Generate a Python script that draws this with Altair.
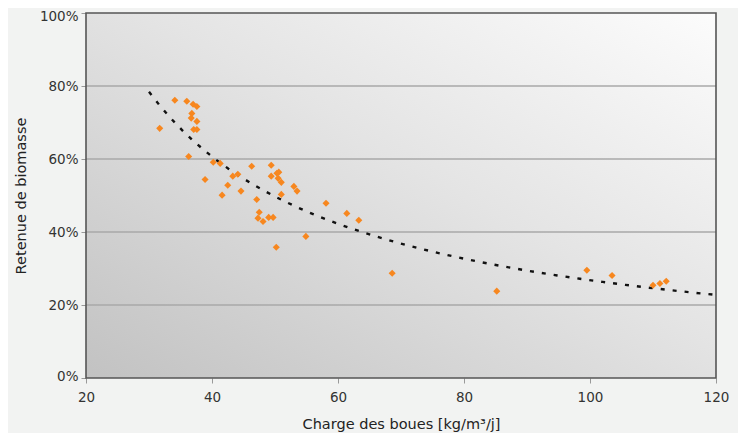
import altair as alt
import pandas as pd

# Charge des boues [kg/m3/j]
charge = [31.7, 34.1, 36.0, 37.0, 37.6, 36.8, 36.7, 37.6, 37.1, 37.6,
          36.3, 40.2, 41.3, 38.9, 42.5, 41.6, 43.3, 44.1, 44.6, 46.3,
          49.4, 49.4, 50.3, 50.6, 50.5, 51.0, 47.1, 47.5, 47.3, 48.1,
          49.0, 49.7, 51.0, 53.0, 53.5, 58.1, 61.4, 63.3, 54.9, 50.2,
          68.6, 85.2, 99.5, 103.5, 110.0, 111.1, 112.1]
# Retenue de biomasse [%]
retenue = [68.4, 76.1, 75.8, 75.0, 74.4, 72.5, 71.2, 70.3, 68.1, 68.1,
           60.7, 59.1, 58.8, 54.4, 52.8, 50.1, 55.3, 55.8, 51.2, 58.0,
           58.3, 55.3, 56.1, 56.4, 54.7, 53.6, 48.9, 45.4, 43.8, 42.9,
           44.0, 44.0, 50.3, 52.5, 51.2, 47.9, 45.1, 43.2, 38.8, 35.8,
           28.7, 23.8, 29.5, 28.1, 25.4, 25.9, 26.5]

x_ticks = [20, 40, 60, 80, 100, 120]
y_ticks = [0, 0.2, 0.4, 0.6, 0.8, 1.0]
grid_values = [0.2, 0.4, 0.6, 0.8]
trend_extent = [30, 120]
x_domain = [20, 120]
y_domain = [0, 1]

df = pd.DataFrame({"charge": charge, "retenue": [v / 100 for v in retenue]})
bg_df = pd.DataFrame({"x0": [x_domain[0]], "x1": [x_domain[1]],
                      "y0": [y_domain[0]], "y1": [y_domain[1]]})
grid_df = pd.DataFrame({"g": grid_values})

FONT = "DejaVu Sans"

x_scale = alt.Scale(domain=x_domain, nice=False, zero=False)
y_scale = alt.Scale(domain=y_domain, nice=False)

x_enc = alt.X(
    "charge:Q", scale=x_scale,
    axis=alt.Axis(values=x_ticks, title="Charge des boues  [kg/m³/j]", grid=False,
                  labelFlush=False, labelPadding=7, titlePadding=14),
)
y_enc = alt.Y(
    "retenue:Q", scale=y_scale,
    axis=alt.Axis(
        values=y_ticks, format=".0%", title="Retenue de biomasse",
        grid=False, labelFlush=False, labelPadding=3, titlePadding=11,
        labelOffset={"condition": [{"test": "datum.value == 1", "value": 3.5},
                                   {"test": "datum.value == 0", "value": -2}],
                     "value": 0},
    ),
)

gradient = alt.LinearGradient(
    gradient="linear", x1=0, y1=1, x2=1, y2=0,
    stops=[alt.GradientStop(offset=0, color="#c2c2c2"),
           alt.GradientStop(offset=0.55, color="#e4e4e4"),
           alt.GradientStop(offset=1, color="#fcfcfc")],
)

bg = alt.Chart(bg_df).mark_rect(color=gradient).encode(
    x=alt.X("x0:Q", scale=x_scale), x2="x1:Q",
    y=alt.Y("y0:Q", scale=y_scale), y2="y1:Q",
)

grid = alt.Chart(grid_df).mark_rule(color="#a8a8a8", strokeWidth=1.5).encode(
    y=alt.Y("g:Q", scale=y_scale)
)

border = alt.Chart(bg_df).mark_rect(fill=None, stroke="#555555", strokeWidth=1.6, filled=False).encode(
    x=alt.X("x0:Q", scale=x_scale), x2="x1:Q",
    y=alt.Y("y0:Q", scale=y_scale), y2="y1:Q",
)

base = alt.Chart(df)

trend = base.transform_regression(
    "charge", "retenue", method="pow", extent=trend_extent
).mark_line(color="#111111", strokeDash=[4, 8], strokeWidth=2.4).encode(
    x=x_enc, y=y_enc
)

points = base.mark_point(
    shape="diamond", filled=True, color="#f7871f", size=50, opacity=1
).encode(x=x_enc, y=y_enc)

chart = alt.layer(bg, grid, border, trend, points).properties(
    width=630, height=365, background="#f2f3f2",
    autosize=alt.AutoSizeParams(type="none"),
    padding={"left": 78, "top": 5, "right": 22, "bottom": 55},
).configure_view(
    stroke=None
).configure_axis(
    labelFont=FONT, titleFont=FONT, labelFontSize=13.5, titleFontSize=14.5,
    labelColor="#333333", titleColor="#222222", titleFontWeight="normal",
    domain=False, tickColor="#999999", tickSize=5,
)

chart.save("out.html", embed_options={"renderer": "svg", "actions": False})
